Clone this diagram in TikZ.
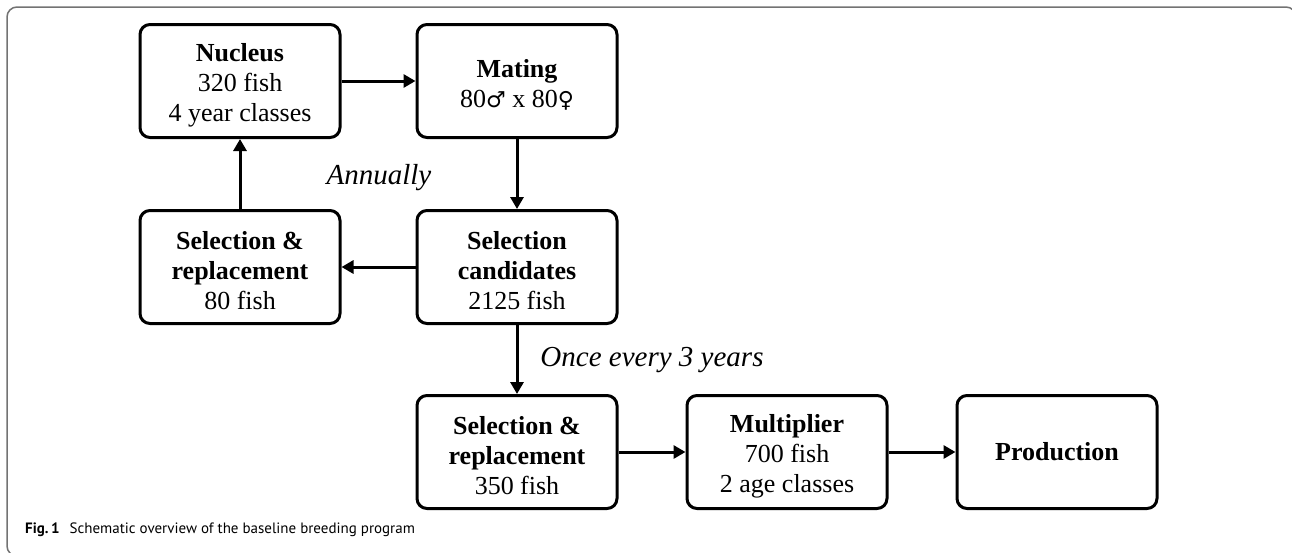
\documentclass[tikz,border=0pt]{standalone}
\usepackage{fontspec}
\setmainfont{Liberation Serif}
\newfontfamily\capfont{PT Sans}
\newfontfamily\symfont{DejaVu Sans}
\usetikzlibrary{arrows.meta}
\newcommand{\tstrut}{\rule{0pt}{26pt}}
\begin{document}
\begin{tikzpicture}[x=1pt,y=-1pt,
  box/.style={draw, line width=3pt, rounded corners=10pt, minimum width=200pt, minimum height=113pt,
    align=center, inner sep=2pt, font=\fontsize{26}{30}\selectfont},
  arr/.style={line width=3pt, -{Triangle[length=12pt,width=13pt]}},
  lbl/.style={font=\fontsize{29}{33}\selectfont\itshape}]
\useasboundingbox (0,0) rectangle (1292,552);
\begin{scope}
\clip (0,0) rectangle (1292,552);
\draw[draw=black!55, line width=1.5pt, rounded corners=10pt] (7,7) rectangle (1296,556);
\end{scope}
\node[box] (nuc) at (240,81) {\tstrut\textbf{Nucleus}\\320 fish\\4 year classes};
\node[box] (mat) at (517,81) {\tstrut\textbf{Mating}\\80{\symfont\fontsize{22}{30}\selectfont ♂} x 80{\symfont\fontsize{22}{30}\selectfont ♀}};
\node[box] (cand) at (517,267) {\tstrut\textbf{Selection}\\\textbf{candidates}\\2125 fish};
\node[box] (srep) at (240,267) {\tstrut\textbf{Selection \&}\\\textbf{replacement}\\80 fish};
\node[box] (srep2) at (517,452) {\tstrut\textbf{Selection \&}\\\textbf{replacement}\\350 fish};
\node[box] (mult) at (787,452) {\tstrut\textbf{Multiplier}\\700 fish\\2 age classes};
\node[box] (prod) at (1057,452) {\textbf{Production}};
\draw[arr] (nuc) -- (mat);
\draw[arr] (mat) -- (cand);
\draw[arr] (cand) -- (srep);
\draw[arr] (srep) -- (nuc);
\draw[arr] (cand) -- (srep2);
\draw[arr] (srep2) -- (mult);
\draw[arr] (mult) -- (prod);
\node[lbl] (ann) at (379,178) {Annually};
\node[lbl] (once) at (652,360) {Once every 3 years};
\node[anchor=base west, font=\capfont\fontsize{15}{18}\selectfont, inner sep=0pt] (cap) at (25,533) {\textbf{Fig.\,1}\hspace{10pt}Schematic overview of the baseline breeding program};
\end{tikzpicture}
\end{document}
